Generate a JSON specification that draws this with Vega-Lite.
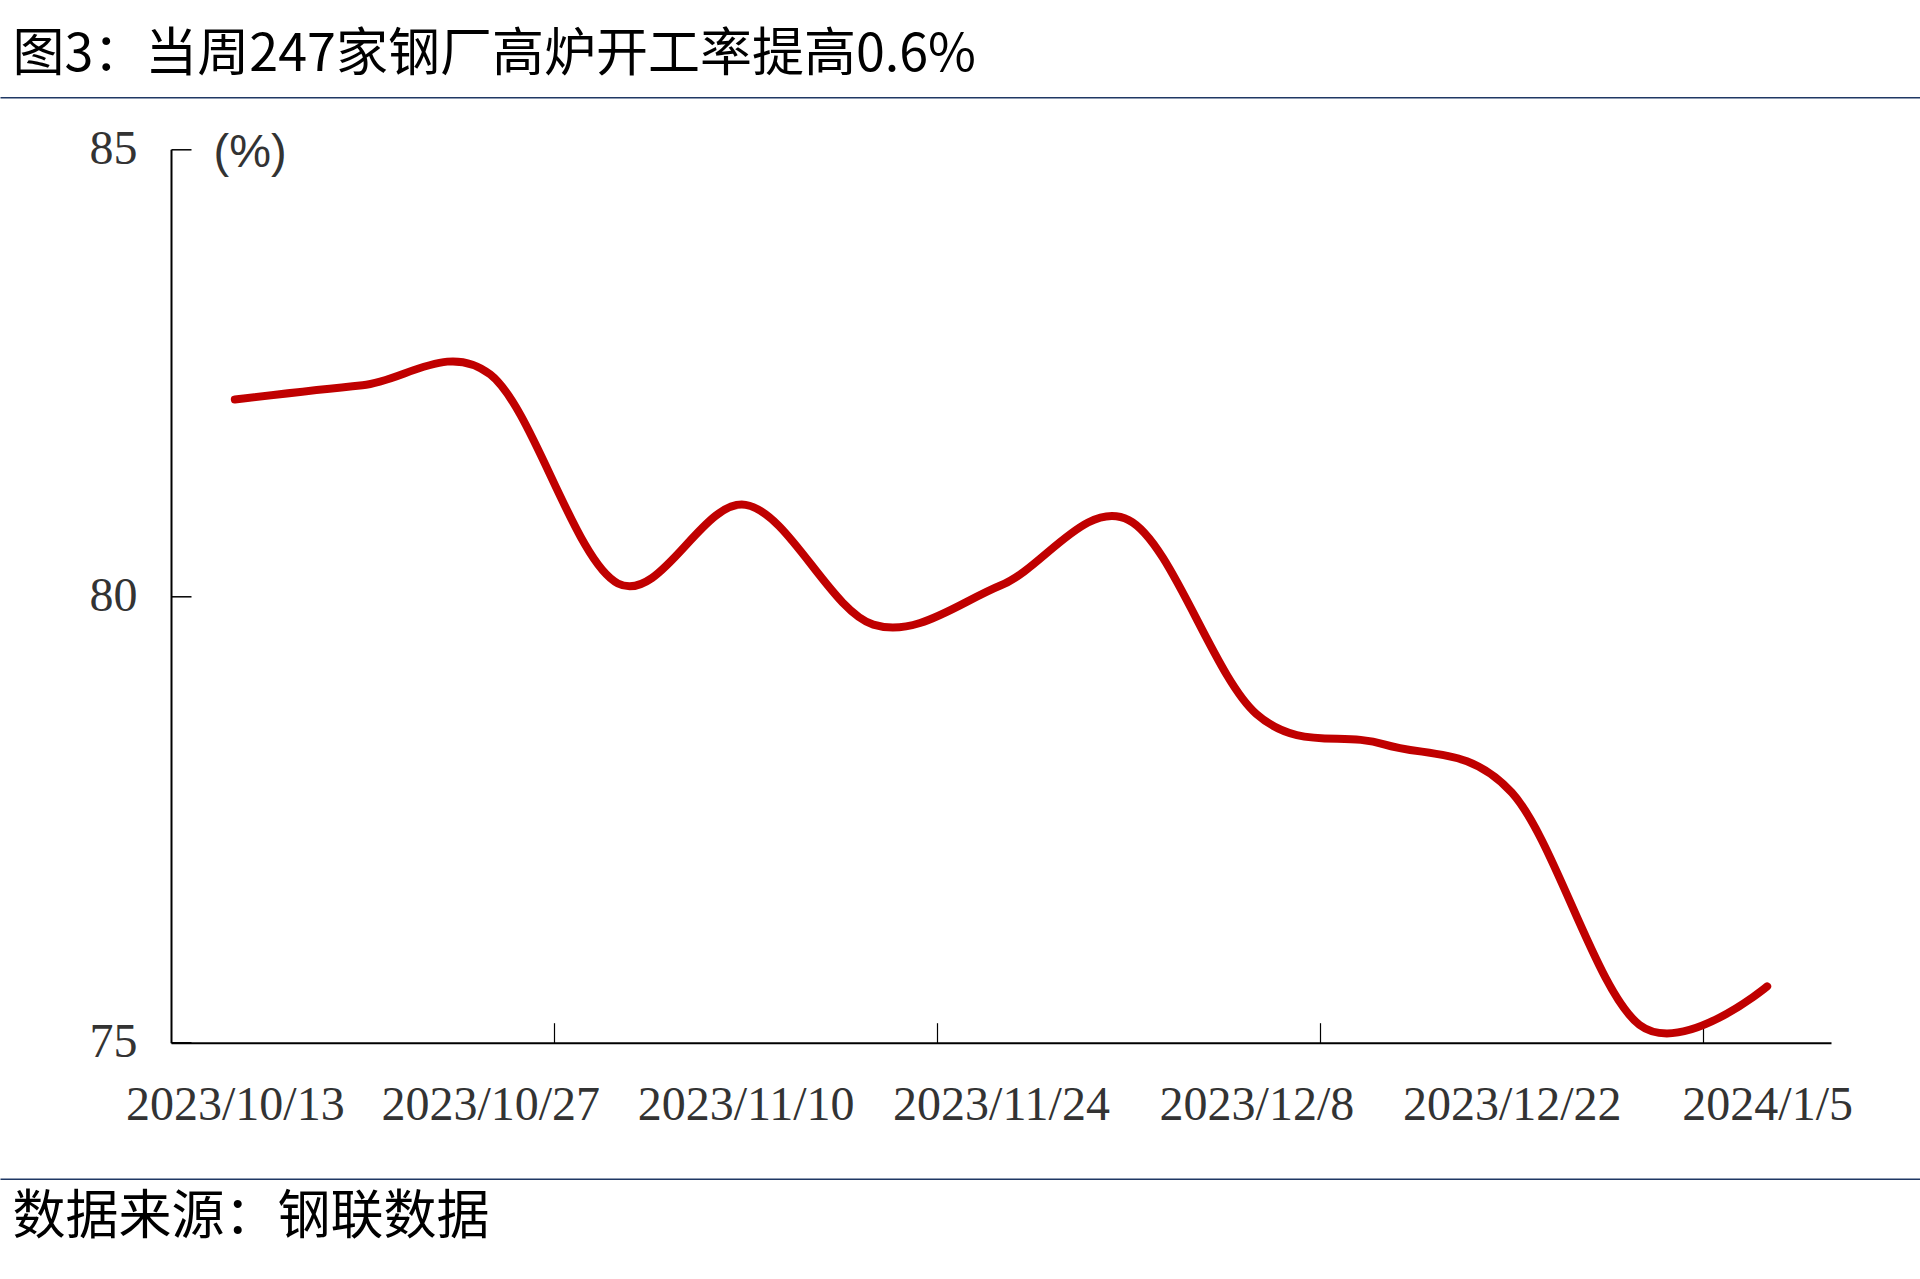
{
  "$schema": "https://vega.github.io/schema/vega-lite/v6.json",
  "width": 1660,
  "height": 893.4,
  "autosize": {"type": "none"},
  "padding": {"left": 171, "top": 149.3, "right": 89, "bottom": 236.3},
  "background": "white",
  "config": {"view": {"stroke": null}, "axis": {"grid": false}},
  "data": {
    "values": [
      {"date": "2023-10-13", "value": 82.20},
      {"date": "2023-10-20", "value": 82.36},
      {"date": "2023-10-27", "value": 82.48},
      {"date": "2023-11-03", "value": 80.14},
      {"date": "2023-11-10", "value": 81.02},
      {"date": "2023-11-17", "value": 79.68},
      {"date": "2023-11-24", "value": 80.12},
      {"date": "2023-12-01", "value": 80.85},
      {"date": "2023-12-08", "value": 78.68},
      {"date": "2023-12-15", "value": 78.34},
      {"date": "2023-12-22", "value": 77.80},
      {"date": "2023-12-29", "value": 75.20},
      {"date": "2024-01-05", "value": 75.63}
    ]
  },
  "resolve": {"scale": {"x": "independent"}, "axis": {"x": "independent"}},
  "layer": [
    {
      "mark": {"type": "line", "color": "#C00000", "strokeWidth": 8, "interpolate": "cardinal", "tension": 0, "strokeCap": "round", "strokeJoin": "round"},
      "encoding": {
        "x": {
          "field": "date",
          "type": "temporal",
          "scale": {
            "type": "utc",
            "domain": [
              {"year": 2023, "month": 10, "date": 9, "hours": 12, "utc": true},
              {"year": 2024, "month": 1, "date": 8, "hours": 12, "utc": true}
            ]
          },
          "axis": {
            "title": null,
            "values": [
              {"year": 2023, "month": 10, "date": 13, "utc": true},
              {"year": 2023, "month": 10, "date": 27, "utc": true},
              {"year": 2023, "month": 11, "date": 10, "utc": true},
              {"year": 2023, "month": 11, "date": 24, "utc": true},
              {"year": 2023, "month": 12, "date": 8, "utc": true},
              {"year": 2023, "month": 12, "date": 22, "utc": true},
              {"year": 2024, "month": 1, "date": 5, "utc": true},
              {"year": 2023, "month": 10, "date": 30, "hours": 12, "utc": true},
              {"year": 2023, "month": 11, "date": 20, "hours": 12, "utc": true},
              {"year": 2023, "month": 12, "date": 11, "hours": 12, "utc": true},
              {"year": 2024, "month": 1, "date": 1, "hours": 12, "utc": true}
            ],
            "labelExpr": "utchours(datum.value) == 12 ? '' : utcFormat(datum.value, '%Y/%-m/%-d')",
            "labelOverlap": false,
            "labelBound": false,
            "labelFlush": false,
            "labelLimit": 0,
            "labelFont": "Liberation Serif",
            "labelFontSize": 48,
            "labelColor": "#333333",
            "labelPadding": 59,
            "tickSize": -20,
            "tickWidth": 1.2,
            "tickColor": "#000000",
            "tickOpacity": {"condition": {"test": "utchours(datum.value) == 12", "value": 1}, "value": 0},
            "domainColor": "#000000",
            "domainWidth": 2
          }
        },
        "y": {
          "field": "value",
          "type": "quantitative",
          "scale": {"domain": [75, 85], "nice": false, "zero": false},
          "axis": {
            "values": [75, 80, 85],
            "title": "(%)",
            "titleAngle": 0,
            "titleFont": "Liberation Sans",
            "titleFontSize": 47,
            "titleFontWeight": "normal",
            "titleColor": "#333333",
            "titleAlign": "left",
            "titleBaseline": "middle",
            "titleX": 42,
            "titleY": 3,
            "labelFont": "Liberation Serif",
            "labelFontSize": 48,
            "labelColor": "#333333",
            "labelPadding": 54,
            "tickSize": -20,
            "tickWidth": 1.5,
            "tickColor": "#000000",
            "domainColor": "#000000",
            "domainWidth": 2
          }
        }
      }
    },
    {
      "mark": {"type": "point", "opacity": 0},
      "encoding": {
        "x": {
          "datum": 0,
          "type": "quantitative",
          "scale": {"domain": [0, 1], "range": [-171, 1749]},
          "axis": {
            "orient": "top",
            "offset": 52,
            "ticks": false,
            "labels": false,
            "domainColor": "#1F3864",
            "domainWidth": 1.5,
            "title": "图3：当周247家钢厂高炉开工率提高0.6%",
            "titleFont": "Noto Sans CJK SC",
            "titleFontSize": 52,
            "titleFontWeight": "normal",
            "titleColor": "#000000",
            "titleAlign": "left",
            "titleBaseline": "middle",
            "titleLimit": 0,
            "titleX": -159,
            "titleY": -43
          }
        }
      }
    },
    {
      "mark": {"type": "point", "opacity": 0},
      "encoding": {
        "x": {
          "datum": 0,
          "type": "quantitative",
          "scale": {"domain": [0, 1], "range": [-171, 1749]},
          "axis": {
            "orient": "bottom",
            "offset": 136,
            "ticks": false,
            "labels": false,
            "domainColor": "#1F3864",
            "domainWidth": 1.5,
            "title": "数据来源：钢联数据",
            "titleFont": "Noto Sans CJK SC",
            "titleFontSize": 53,
            "titleFontWeight": "normal",
            "titleColor": "#000000",
            "titleAlign": "left",
            "titleBaseline": "middle",
            "titleLimit": 0,
            "titleX": -159,
            "titleY": 39
          }
        }
      }
    }
  ]
}
